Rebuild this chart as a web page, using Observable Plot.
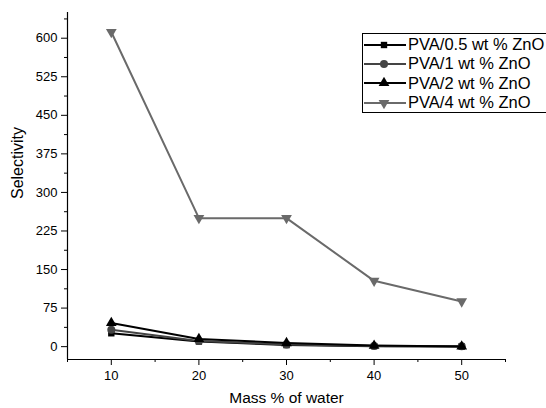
<!DOCTYPE html>
<html><head><meta charset="utf-8">
<script src="https://cdn.jsdelivr.net/npm/d3@7"></script>
<script src="https://cdn.jsdelivr.net/npm/@observablehq/plot@0.6"></script>
<style>
html,body{margin:0;padding:0;background:#fff;overflow:hidden;}
#wrap{position:relative;width:546px;height:408px;overflow:hidden;font-family:Arial,"Liberation Sans",sans-serif;}
#legend{position:absolute;left:362px;top:33px;width:200px;height:80px;border:1px solid #000;background:#fff;box-sizing:border-box;padding-top:1px;}
.row{display:flex;align-items:center;height:19.3px;font-size:16.5px;color:#000;white-space:nowrap;}
.row svg{display:block;flex:none;margin-right:1px;}
</style>
</head><body>
<div id="wrap"><div id="chart"></div><div id="legend"></div></div>
<script>
const waterPct = [10, 20, 30, 40, 50];
const seriesNames = ["PVA/0.5 wt % ZnO", "PVA/1 wt % ZnO", "PVA/2 wt % ZnO", "PVA/4 wt % ZnO"];
const sel05 = [26, 10, 3, 1, 0.3];
const sel1 = [33, 11, 4, 1.5, 1];
const sel2 = [46, 15, 7, 2, 0.5];
const sel4 = [612, 250, 250, 128, 88];
const yTicks = [0, 75, 150, 225, 300, 375, 450, 525, 600];
const yMinor = [37.5, 112.5, 187.5, 262.5, 337.5, 412.5, 487.5, 562.5, 637.5];
const xTicks = [10, 20, 30, 40, 50];
const xMinor = [5, 15, 25, 35, 45, 55];
const xTitle = "Mass % of water";
const yTitle = "Selectivity";

const triangleDown = {
  draw(ctx, size) {
    const y = -Math.sqrt(size / (Math.sqrt(3) * 3));
    ctx.moveTo(0, -y * 2);
    ctx.lineTo(-Math.sqrt(3) * y, y);
    ctx.lineTo(Math.sqrt(3) * y, y);
    ctx.closePath();
  }
};
const colors = ["#000000", "#444444", "#000000", "#6a6a6a"];
const symbols = [d3.symbolSquare, d3.symbolCircle, d3.symbolTriangle, triangleDown];
const radii = [3.6, 4, 4, 4];
const allSeries = [sel05, sel1, sel2, sel4];
const rows = allSeries.map((vals, i) => waterPct.map((x, j) => ({x, y: vals[j], s: seriesNames[i]})));

const drawOrder = [3, 0, 1, 2];
const marks = [];
for (const i of drawOrder) {
  marks.push(Plot.line(rows[i], {x: "x", y: "y", stroke: colors[i], strokeWidth: 2}));
  marks.push(Plot.dot(rows[i], {x: "x", y: "y", fill: colors[i], stroke: "none", symbol: symbols[i], r: radii[i]}));
}

const chart = Plot.plot({
  width: 546,
  height: 408,
  marginLeft: 67,
  marginRight: 41,
  marginTop: 12,
  marginBottom: 49,
  style: {fontFamily: 'Arial, "Liberation Sans", sans-serif', fontSize: "13px", color: "#000", background: "#fff"},
  x: {domain: [5, 55]},
  y: {domain: [-25, 650]},
  marks: [
    Plot.axisY({ticks: yMinor, tickSize: 3, tickFormat: () => "", label: null, stroke: "#000", strokeOpacity: 1}),
    Plot.axisY({ticks: yTicks, tickSize: 6, tickPadding: 4, label: null, stroke: "#000", strokeOpacity: 1}),
    Plot.axisX({ticks: xMinor, tickSize: 3, tickFormat: () => "", label: null, stroke: "#000", strokeOpacity: 1}),
    Plot.axisX({ticks: xTicks, tickSize: 6, tickPadding: 5, label: null, stroke: "#000", strokeOpacity: 1}),
    Plot.ruleX([5], {stroke: "#000", strokeWidth: 1.2}),
    Plot.ruleY([-25], {stroke: "#000", strokeWidth: 1.2}),
    Plot.text([xTitle], {frameAnchor: "bottom", dy: 39, text: d => d, fontSize: 15.5, fill: "#000", lineAnchor: "middle"}),
    Plot.text([yTitle], {frameAnchor: "left", dx: -49.5, dy: 13, rotate: -90, text: d => d, fontSize: 16, fill: "#000", lineAnchor: "middle"}),
    ...marks
  ]
});
document.getElementById("chart").appendChild(chart);

const legend = document.getElementById("legend");
seriesNames.forEach((name, i) => {
  const row = document.createElement("div");
  row.className = "row";
  const svg = d3.create("svg").attr("width", 44).attr("height", 12);
  svg.append("line").attr("x1", 1).attr("x2", 43).attr("y1", 6).attr("y2", 6).attr("stroke", colors[i]).attr("stroke-width", 2);
  svg.append("path").attr("transform", "translate(21,6)").attr("fill", colors[i])
    .attr("d", d3.symbol(symbols[i], Math.PI * radii[i] * radii[i])());
  row.appendChild(svg.node());
  const span = document.createElement("span");
  span.textContent = name;
  row.appendChild(span);
  legend.appendChild(row);
});
</script>
</body></html>
